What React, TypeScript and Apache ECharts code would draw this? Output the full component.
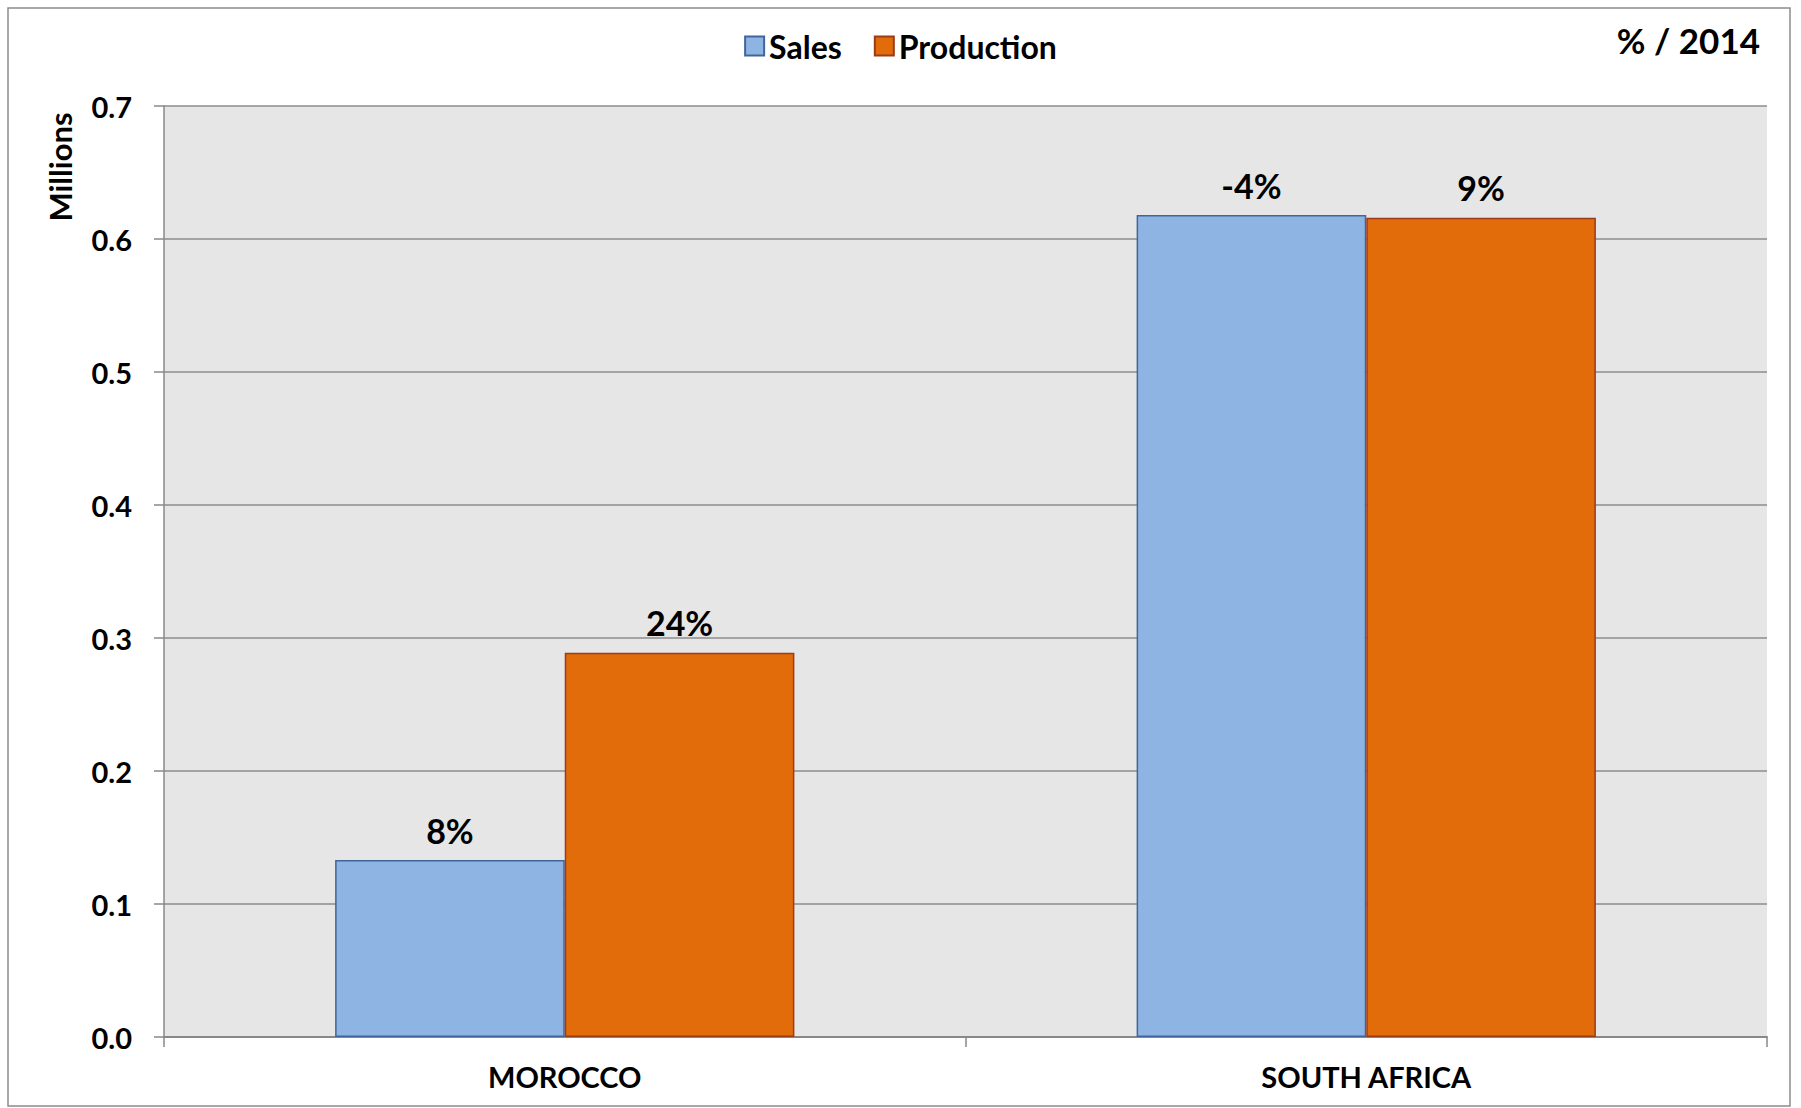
import React, { useEffect, useRef } from "react";
import * as echarts from "echarts";

const categories = ["MOROCCO", "SOUTH AFRICA"];
const salesValues = [0.133, 0.618];
const productionValues = [0.289, 0.616];
const salesChange = ["8%", "-4%"];
const productionChange = ["24%", "9%"];
const yTicks = { min: 0, max: 0.7, interval: 0.1 };

const FONT = "Lato, 'Open Sans', sans-serif";

export default function App() {
  const ref = useRef<HTMLDivElement>(null);
  useEffect(() => {
    if (!ref.current) return;
    const chart = echarts.init(ref.current, undefined, { renderer: "svg" });
    chart.setOption({
      animation: false,
      textStyle: { fontFamily: FONT },
      legend: {
        top: 25,
        left: "center",
        icon: "rect",
        itemWidth: 19,
        itemHeight: 19,
        itemGap: 32,
        textStyle: { fontSize: 32, fontWeight: "bold", color: "#000", fontFamily: FONT },
        data: ["Sales", "Production"],
      },
      grid: {
        left: 164,
        right: 34,
        top: 106,
        bottom: 71,
        show: true,
        backgroundColor: "#e6e6e6",
        borderWidth: 0,
      },
      xAxis: {
        type: "category",
        data: categories,
        axisLine: { show: true, lineStyle: { color: "#888", width: 2 } },
        axisTick: { show: true, length: 10, lineStyle: { color: "#888", width: 1.5 } },
        axisLabel: { fontSize: 29, fontWeight: "bold", color: "#000", margin: 25, fontFamily: FONT },
      },
      yAxis: {
        type: "value",
        min: yTicks.min,
        max: yTicks.max,
        interval: yTicks.interval,
        axisLine: { show: true, lineStyle: { color: "#888", width: 1.5 } },
        axisTick: { show: true, length: 10, lineStyle: { color: "#888", width: 1.5 } },
        splitLine: { show: true, lineStyle: { color: "#8c8c8c", width: 1.5 } },
        axisLabel: {
          fontSize: 29,
          fontWeight: "bold",
          color: "#000",
          margin: 32,
          fontFamily: FONT,
          formatter: (v: number) => v.toFixed(1),
        },
      },
      series: [
        {
          name: "Sales",
          type: "bar",
          data: salesValues,
          barGap: "0%",
          barCategoryGap: "42.7%",
          itemStyle: { color: "#8eb4e3", borderColor: "#41659a", borderWidth: 1.5 },
          label: {
            show: true,
            position: "top",
            distance: 13,
            fontSize: 34,
            fontWeight: "bold",
            color: "#000",
            fontFamily: FONT,
            formatter: (p: any) => salesChange[p.dataIndex],
          },
        },
        {
          name: "Production",
          type: "bar",
          data: productionValues,
          barGap: "0%",
          barCategoryGap: "42.7%",
          itemStyle: { color: "#e36c0a", borderColor: "#9a3b1c", borderWidth: 1.5 },
          label: {
            show: true,
            position: "top",
            distance: 13,
            fontSize: 34,
            fontWeight: "bold",
            color: "#000",
            fontFamily: FONT,
            formatter: (p: any) => productionChange[p.dataIndex],
          },
        },
      ],
      graphic: [
        {
          type: "rect",
          shape: { x: 8, y: 8, width: 1782, height: 1098 },
          style: { fill: "none", stroke: "#8c8c8c", lineWidth: 1.5 },
          silent: true,
          z: -1,
        },
        {
          type: "text",
          x: 1760,
          y: 40,
          style: {
            text: "% / 2014",
            fontSize: 35,
            fontWeight: "bold",
            fill: "#000",
            fontFamily: FONT,
            align: "right",
            verticalAlign: "middle",
          },
        },
        {
          type: "text",
          x: 60,
          y: 167,
          rotation: Math.PI / 2,
          style: {
            text: "Millions",
            fontSize: 31,
            fontWeight: "bold",
            fill: "#000",
            fontFamily: FONT,
            align: "center",
            verticalAlign: "middle",
          },
        },
      ],
    });
    return () => chart.dispose();
  }, []);
  return (
    <div
      ref={ref}
      style={{ position: "absolute", left: 0, top: 0, width: 1801, height: 1108 }}
    />
  );
}
